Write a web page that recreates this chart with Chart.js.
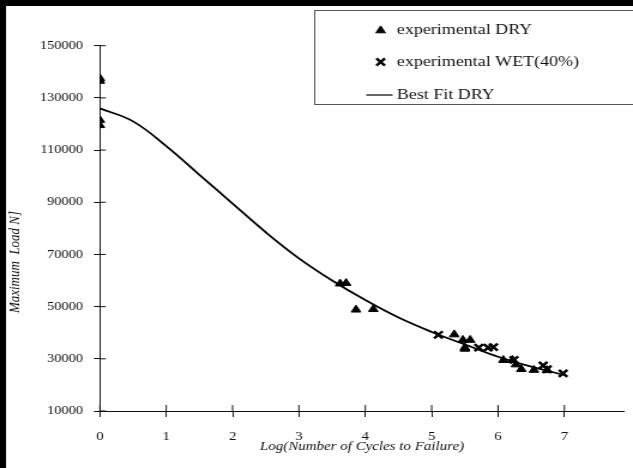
<!DOCTYPE html>
<html>
<head>
<meta charset="utf-8">
<script src="https://cdn.jsdelivr.net/npm/chart.js@4.4.1/dist/chart.umd.min.js"></script>
<style>
  html, body { margin: 0; padding: 0; background: #fff; overflow: hidden; width: 633px; height: 468px; }
  #fatigueChart { display: block; }
</style>
</head>
<body>
<!-- the scanned figure has wide glyphs, so the canvas is drawn narrow and stretched sideways -->
<canvas id="fatigueChart" width="528" height="468" style="width:633px;height:468px"></canvas>
<script>
const xTitle = "Log(Number of Cycles to Failure)";
const yTitle = "Maximum  Load N]";
const xTicks = [0, 1, 2, 3, 4, 5, 6, 7];
const yTicks = [10000, 30000, 50000, 70000, 90000, 110000, 130000, 150000];

const dryLogCycles = [0, 0, 0, 0, 3.62, 3.71, 3.86, 4.12, 5.34, 5.47, 5.58, 5.50, 5.50, 6.08, 6.22, 6.27, 6.35, 6.54, 6.74];
const dryLoad = [137500, 136500, 121500, 119500, 58800, 59000, 48800, 49000, 39300, 37200, 37200, 34300, 33800, 29500, 29500, 27800, 26000, 25700, 25600];

const wetLogCycles = [5.10, 5.71, 5.85, 5.93, 6.24, 6.68, 6.74, 6.98];
const wetLoad = [39200, 34300, 34300, 34500, 29600, 27500, 26000, 24400];

const fitLogCycles = [0, 0.5, 1, 1.5, 2, 2.5, 3, 3.5, 4, 4.5, 5, 5.5, 6, 6.5, 7];
const fitLoad = [126000, 121000, 111500, 100500, 89500, 78500, 68500, 60000, 52500, 45800, 40300, 35500, 30800, 27000, 23800];

const serif = "'Liberation Serif', 'Times New Roman', serif";
const ink = "#111";

function toPoints(xs, ys) {
    return xs.map((x, i) => ({ x: x, y: ys[i] }));
}

// white page and the heavy top/left rule of the scan
const pageFrame = {
    id: "pageFrame",
    beforeDraw(chart) {
        const ctx = chart.ctx;
        ctx.save();
        ctx.fillStyle = "#fff";
        ctx.fillRect(0, 0, chart.width, chart.height);
        ctx.restore();
    },
    afterDraw(chart) {
        const ctx = chart.ctx;
        ctx.save();
        ctx.fillStyle = "#000";
        ctx.fillRect(0, 0, chart.width, 6);
        ctx.fillRect(0, 0, 5, chart.height);
        ctx.restore();
    }
};

// ticks that cross the axes, the rotated y title and the boxed legend
const axisExtras = {
    id: "axisExtras",
    afterDraw(chart) {
        const ctx = chart.ctx;
        const area = chart.chartArea;
        const xs = chart.scales.x;
        const ys = chart.scales.y;

        ctx.save();
        ctx.strokeStyle = ink;
        ctx.lineWidth = 1;
        ctx.beginPath();
        xTicks.forEach(v => {
            const px = xs.getPixelForValue(v);
            ctx.moveTo(px, area.bottom);
            ctx.lineTo(px, area.bottom - 6);
        });
        yTicks.forEach(v => {
            const py = ys.getPixelForValue(v);
            ctx.moveTo(area.left, py);
            ctx.lineTo(area.left + 5, py);
        });
        ctx.stroke();
        ctx.restore();

        ctx.save();
        ctx.fillStyle = ink;
        ctx.font = "italic 13px " + serif;
        ctx.textAlign = "center";
        ctx.textBaseline = "middle";
        ctx.translate(12.5, 262);
        ctx.rotate(-Math.PI / 2);
        ctx.fillText(yTitle, 0, 0);
        ctx.restore();

        // legend box, open to the right edge like the scan
        ctx.save();
        ctx.strokeStyle = "#555";
        ctx.lineWidth = 1;
        ctx.strokeRect(262.5, 10.5, 300, 94);
        const rows = [30.5, 62, 95];
        ctx.font = "15px " + serif;
        ctx.textBaseline = "middle";
        ctx.textAlign = "left";
        chart.data.datasets.forEach((ds, i) => {
            const y = rows[i];
            ctx.fillStyle = "#000";
            ctx.strokeStyle = "#000";
            if (ds.showLine) {
                ctx.lineWidth = 1.2;
                ctx.beginPath();
                ctx.moveTo(305.5, y);
                ctx.lineTo(327.5, y);
                ctx.stroke();
            } else {
                ctx.lineWidth = ds.borderWidth;
                Chart.helpers.drawPoint(ctx, {
                    pointStyle: ds.pointStyle,
                    radius: ds.pointRadius,
                    borderWidth: ds.borderWidth,
                    rotation: 0
                }, 317.5, y);
            }
            ctx.fillStyle = ink;
            ctx.fillText(ds.label, 331, y);
        });
        ctx.restore();
    }
};

const ctx = document.getElementById("fatigueChart").getContext("2d");
const fatigueChart = new Chart(ctx, {
    type: "scatter",
    data: {
        datasets: [
            {
                label: "experimental DRY",
                data: toPoints(dryLogCycles, dryLoad),
                pointStyle: "triangle",
                pointRadius: 4.6,
                backgroundColor: "#000",
                borderColor: "#000",
                borderWidth: 1
            },
            {
                label: "experimental WET(40%)",
                data: toPoints(wetLogCycles, wetLoad),
                pointStyle: "crossRot",
                pointRadius: 5,
                backgroundColor: "#000",
                borderColor: "#000",
                borderWidth: 2.4
            },
            {
                label: "Best Fit DRY",
                data: toPoints(fitLogCycles, fitLoad),
                showLine: true,
                pointRadius: 0,
                borderColor: "#000",
                borderWidth: 1.8,
                tension: 0.4
            }
        ]
    },
    options: {
        responsive: false,
        animation: false,
        devicePixelRatio: 1,
        layout: { padding: { left: 0, top: 45.7, right: 3, bottom: 0 } },
        plugins: {
            legend: { display: false },
            tooltip: { enabled: false }
        },
        scales: {
            x: {
                type: "linear",
                min: 0,
                max: 7.9,
                ticks: {
                    stepSize: 1,
                    includeBounds: false,
                    color: ink,
                    padding: 12,
                    font: { family: serif, size: 12.5 }
                },
                grid: { drawOnChartArea: false, drawTicks: true, tickLength: 6, color: ink },
                border: { display: true, color: ink, width: 1 },
                title: {
                    display: true,
                    text: xTitle,
                    color: ink,
                    font: { family: serif, size: 12.5, style: "italic", lineHeight: 1.2 },
                    padding: { top: 0, bottom: 13.5 }
                },
                afterFit: function (scale) { scale.height = 57; }
            },
            y: {
                type: "linear",
                min: 10000,
                max: 150000,
                ticks: {
                    stepSize: 20000,
                    color: ink,
                    padding: 9,
                    font: { family: serif, size: 12 },
                    callback: value => String(value)
                },
                grid: { drawOnChartArea: false, drawTicks: true, tickLength: 5, color: ink },
                border: { display: true, color: ink, width: 1 },
                afterFit: function (scale) { scale.width = 83.3; }
            }
        }
    },
    plugins: [pageFrame, axisExtras]
});
</script>
</body>
</html>
